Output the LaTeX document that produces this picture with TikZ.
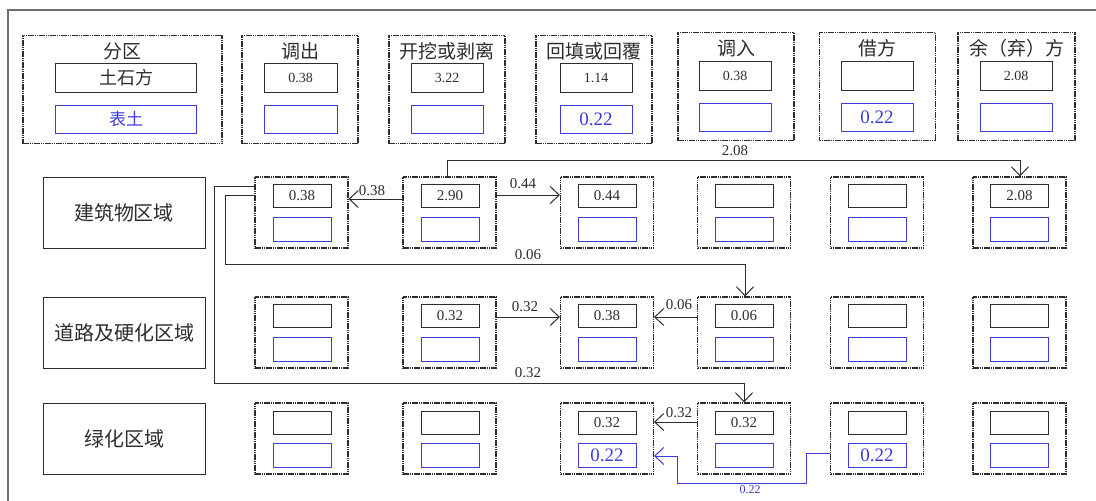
\documentclass[tikz,border=0pt]{standalone}
\usepackage{fontspec}
\setmainfont{Liberation Serif}
\newfontfamily\cjk{Noto Sans CJK SC}
\usetikzlibrary{arrows.meta}
\definecolor{ink}{RGB}{45,45,45}
\definecolor{bl}{RGB}{60,60,215}
\definecolor{frm}{RGB}{110,110,110}
\tikzset{
  dbox/.style={draw=ink, line width=1.1pt, dash pattern=on 1.6pt off 0.6pt, inner sep=0pt, minimum height=71pt},
  cellbox/.style={dbox, minimum width=93pt},
  kbox/.style={draw=ink, line width=1pt, inner sep=0pt, minimum width=58pt, minimum height=23pt, text=ink, font=\fontsize{15}{15}\selectfont},
  ubox/.style={draw=bl, line width=1pt, inner sep=0pt, minimum width=58pt, minimum height=24pt, text=bl, font=\fontsize{19}{19}\selectfont},
  hk/.style={draw=ink, line width=1pt, inner sep=0pt, minimum height=29pt, text=ink, font=\fontsize{14}{14}\selectfont},
  hu/.style={draw=bl, line width=1pt, inner sep=0pt, minimum height=28pt, text=bl, font=\fontsize{19}{19}\selectfont},
  htitle/.style={inner sep=0pt, text=ink, font=\cjk\fontsize{19}{19}\selectfont},
  rowlab/.style={draw=ink, line width=1pt, inner sep=0pt, minimum width=162pt, minimum height=71pt, text=ink, font=\cjk\fontsize{20}{20}\selectfont},
  conn/.style={draw=ink, line width=1pt, -{Straight Barb[length=9pt,width=17pt]}},
  bconn/.style={draw=bl, line width=1pt, -{Straight Barb[length=9pt,width=17pt]}},
  elab/.style={inner sep=0pt, text=ink, font=\fontsize{15}{15}\selectfont},
}
\begin{document}
\begin{tikzpicture}[x=1pt,y=-1pt]
\useasboundingbox (0,0) rectangle (1096,501);
% outer frame
\draw[frm, line width=1.5pt] (8,520) -- (8,10) -- (1110,10);

% header
\node[dbox, minimum width=199pt, minimum height=108pt] (h1) at (122.5,89.5) {};
\node[htitle] (h1t) at (122.5,51) {分区};
\node[hk, minimum width=141pt, font=\cjk\fontsize{18}{18}\selectfont] (h1a) at (126,78) {土石方};
\node[hu, minimum width=141pt, font=\cjk\fontsize{17}{17}\selectfont] (h1b) at (126,119.5) {表土};

\node[dbox, minimum width=116pt, minimum height=108pt] (h2) at (300,89.5) {};
\node[htitle] (h2t) at (300,51) {调出};
\node[hk, minimum width=73pt] (h2a) at (300.5,78) {0.38};
\node[hu, minimum width=73pt] (h2b) at (300.5,119.5) {};

\node[dbox, minimum width=116pt, minimum height=108pt] (h3) at (447,89.5) {};
\node[htitle] (h3t) at (447,51) {开挖或剥离};
\node[hk, minimum width=72pt] (h3a) at (447,78) {3.22};
\node[hu, minimum width=72pt] (h3b) at (447,119.5) {};

\node[dbox, minimum width=116pt, minimum height=108pt] (h4) at (594,89.5) {};
\node[htitle] (h4t) at (594,51) {回填或回覆};
\node[hk, minimum width=72pt] (h4a) at (596,78) {1.14};
\node[hu, minimum width=72pt] (h4b) at (596,119.5) {0.22};

\node[dbox, minimum width=116pt, minimum height=108pt] (h5) at (736,86.5) {};
\node[htitle] (h5t) at (736,48) {调入};
\node[hk, minimum width=72pt] (h5a) at (735,75.5) {0.38};
\node[hu, minimum width=72pt] (h5b) at (735,117) {};

\node[dbox, minimum width=116pt, minimum height=108pt] (h6) at (877.5,86.5) {};
\node[htitle] (h6t) at (877.5,48) {借方};
\node[hk, minimum width=72pt] (h6a) at (877,75.5) {};
\node[hu, minimum width=72pt] (h6b) at (877,117) {0.22};

\node[dbox, minimum width=117pt, minimum height=108pt] (h7) at (1016.5,86.5) {};
\node[htitle] (h7t) at (1016.5,48) {余（弃）方};
\node[hk, minimum width=72pt] (h7a) at (1016,75.5) {2.08};
\node[hu, minimum width=72pt] (h7b) at (1016,117) {};

% row labels
\node[rowlab] (L1) at (124,212.5) {建筑物区域};
\node[rowlab] (L2) at (124,332.5) {道路及硬化区域};
\node[rowlab] (L3) at (124,438.5) {绿化区域};

% cells
\foreach \r/\y in {1/212.5,2/332.5,3/438.5}{
  \foreach \c/\x in {1/301.5,2/449.5,3/607,4/744,5/877,6/1019.5}{
    \node[cellbox] (c\r\c) at (\x,\y) {};
  }
}
% row 1
\node[kbox] (c11a) at (302,195.5) {0.38}; \node[ubox] (c11b) at (302,229) {};
\node[kbox] (c12a) at (450,195.5) {2.90}; \node[ubox] (c12b) at (450,229) {};
\node[kbox] (c13a) at (607,195.5) {0.44}; \node[ubox] (c13b) at (607,229) {};
\node[kbox] (c14a) at (744,195.5) {};     \node[ubox] (c14b) at (744,229) {};
\node[kbox] (c15a) at (877,195.5) {};     \node[ubox] (c15b) at (877,229) {};
\node[kbox] (c16a) at (1019.5,195.5) {2.08}; \node[ubox] (c16b) at (1019.5,229) {};
% row 2
\node[kbox] (c21a) at (302,315.5) {};     \node[ubox] (c21b) at (302,349) {};
\node[kbox] (c22a) at (450,315.5) {0.32}; \node[ubox] (c22b) at (450,349) {};
\node[kbox] (c23a) at (607,315.5) {0.38}; \node[ubox] (c23b) at (607,349) {};
\node[kbox] (c24a) at (744,315.5) {0.06}; \node[ubox] (c24b) at (744,349) {};
\node[kbox] (c25a) at (877,315.5) {};     \node[ubox] (c25b) at (877,349) {};
\node[kbox] (c26a) at (1019.5,315.5) {};  \node[ubox] (c26b) at (1019.5,349) {};
% row 3
\node[kbox] (c31a) at (302,423) {};     \node[ubox] (c31b) at (302,455.5) {};
\node[kbox] (c32a) at (450,423) {};     \node[ubox] (c32b) at (450,455.5) {};
\node[kbox] (c33a) at (607,423) {0.32}; \node[ubox] (c33b) at (607,455.5) {0.22};
\node[kbox] (c34a) at (744,423) {0.32}; \node[ubox] (c34b) at (744,455.5) {};
\node[kbox] (c35a) at (877,423) {};     \node[ubox] (c35b) at (877,455.5) {0.22};
\node[kbox] (c36a) at (1019.5,423) {};  \node[ubox] (c36b) at (1019.5,455.5) {};

% connectors
\draw[conn] ([yshift=13.5pt]c12.west) -- ([yshift=13.5pt]c11.east);
\node[elab] (e1) at (372,191) {0.38};
\draw[conn] ([yshift=17.5pt]c12.east) -- ([yshift=17.5pt]c13.west);
\node[elab] (e2) at (523,184) {0.44};
\draw[conn] ([xshift=-2.5pt]c12.north) -- ++(0,-16) -| ([xshift=0.5pt]c16.north);
\node[elab] (e3) at (735,151) {2.08};
\draw[conn] ([yshift=17.5pt]c11.west) -- ++(-29,0) -- ++(0,69) -| ([xshift=1pt]c24.north);
\node[elab] (e4) at (528,255) {0.06};
\draw[conn] ([yshift=26.5pt]c11.west) -- ++(-40,0) -- ++(0,197) -| (c34.north);
\node[elab] (e5) at (528,373) {0.32};
\draw[conn] ([yshift=15.5pt]c22.east) -- ([yshift=15.5pt]c23.west);
\node[elab] (e6) at (525,307) {0.32};
\draw[conn] ([yshift=15.5pt]c24.west) -- ([yshift=15.5pt]c23.east);
\node[elab] (e7) at (679,305) {0.06};
\draw[conn] ([yshift=16.5pt]c34.west) -- ([yshift=16.5pt]c33.east);
\node[elab] (e8) at (679,413) {0.32};
\draw[bconn] ([yshift=-14.5pt]c35.west) -- ++(-23,0) -- ++(0,30) -- ++(-129,0) |- ([yshift=-17.5pt]c33.east);
\node[elab, text=bl, font=\fontsize{12}{12}\selectfont] (e9) at (750,490) {0.22};
\end{tikzpicture}
\end{document}
